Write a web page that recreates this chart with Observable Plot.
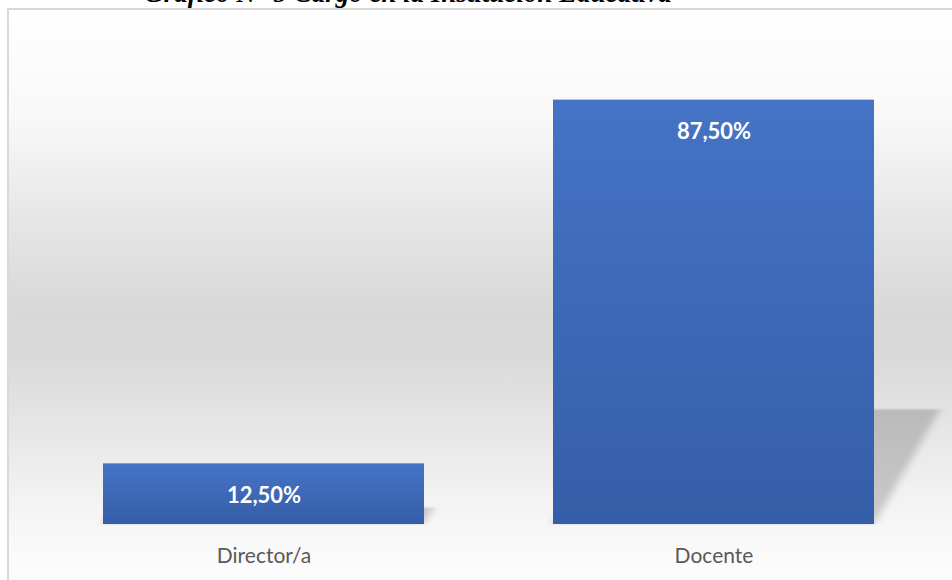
<!DOCTYPE html>
<html>
<head>
<meta charset="utf-8">
<script src="https://cdn.jsdelivr.net/npm/d3@7"></script>
<script src="https://cdn.jsdelivr.net/npm/@observablehq/plot@0.6"></script>
<style>
  html, body { margin: 0; padding: 0; background: #ffffff; overflow: hidden; }
  #wrap { position: relative; width: 952px; height: 580px; overflow: hidden; }
  #frame {
    position: absolute; left: 7px; top: 8px; width: 960px; height: 590px;
    border-left: 2px solid #d9d9d9; border-top: 2px solid #d9d9d9;
    background: linear-gradient(to bottom, #ffffff 0px, #f8f8f8 110px, #e6e6e6 210px, #d8d8d8 300px, #dadada 350px, #e8e8e8 430px, #f6f6f6 510px, #fdfdfd 570px);
  }
  #title {
    position: absolute; left: 0; width: 816px; top: -22px; text-align: center;
    font-family: "Liberation Serif", "Times New Roman", serif; font-weight: bold; font-style: italic;
    font-size: 27px; line-height: 31px; color: #000; white-space: nowrap;
  }
  #chart { position: absolute; left: 0; top: 0; }
</style>
</head>
<body>
<div id="wrap">
  <div id="frame"></div>
  <div id="title">Gráfico N° 5 Cargo en la Institución Educativa</div>
  <div id="chart"></div>
</div>
<script>
const categories = ["Director/a", "Docente"];
const values = [12.5, 87.5];
const valueLabels = ["12,50%", "87,50%"];

const data = categories.map((c, i) => ({cargo: c, pct: values[i], label: valueLabels[i]}));

const shadowRender = (index, scales, vals, dims, ctx, next) => {
  const g = next(index, scales, vals, dims, ctx);
  const y0 = scales.y(0);
  g.setAttribute("transform", `translate(0,${y0}) skewX(-30) scale(1,0.27) translate(0,${-y0})`);
  g.setAttribute("filter", "url(#shblur)");
  return g;
};

const plot = Plot.plot({
  width: 952,
  height: 580,
  marginLeft: 37,
  marginRight: 13,
  marginTop: 39,
  marginBottom: 56,
  style: {background: "transparent", fontFamily: "Lato, 'Open Sans', sans-serif"},
  x: {domain: categories, paddingInner: 0.2874, paddingOuter: 0.144, label: null},
  y: {domain: [0, 100], axis: null},
  marks: [
    Plot.barY(data, {x: "cargo", y: "pct", fill: "#000", fillOpacity: 0.18, render: shadowRender}),
    Plot.barY(data, {x: "cargo", y: "pct", fill: "url(#bargrad)"}),
    Plot.text(data, {x: "cargo", y: "pct", text: "label", dy: 32, fill: "white", fontWeight: "bold", fontSize: 22,
      filter: d => d.pct > 50}),
    Plot.text(data, {x: "cargo", y: d => d.pct / 2, text: "label", dy: 2, fill: "white", fontWeight: "bold", fontSize: 22,
      filter: d => d.pct <= 50}),
    Plot.axisX({tickSize: 0, tickPadding: 24, fontSize: 21, color: "#595959", label: null})
  ]
});

const ns = "http://www.w3.org/2000/svg";
const defs = document.createElementNS(ns, "defs");
defs.innerHTML = `
  <linearGradient id="bargrad" x1="0" y1="0" x2="0" y2="1">
    <stop offset="0" stop-color="#4573c5"/>
    <stop offset="1" stop-color="#355ea8"/>
  </linearGradient>
  <filter id="shblur" x="-20%" y="-20%" width="140%" height="140%">
    <feGaussianBlur stdDeviation="4"/>
  </filter>`;
plot.insertBefore(defs, plot.firstChild);
document.getElementById("chart").appendChild(plot);
</script>
</body>
</html>
